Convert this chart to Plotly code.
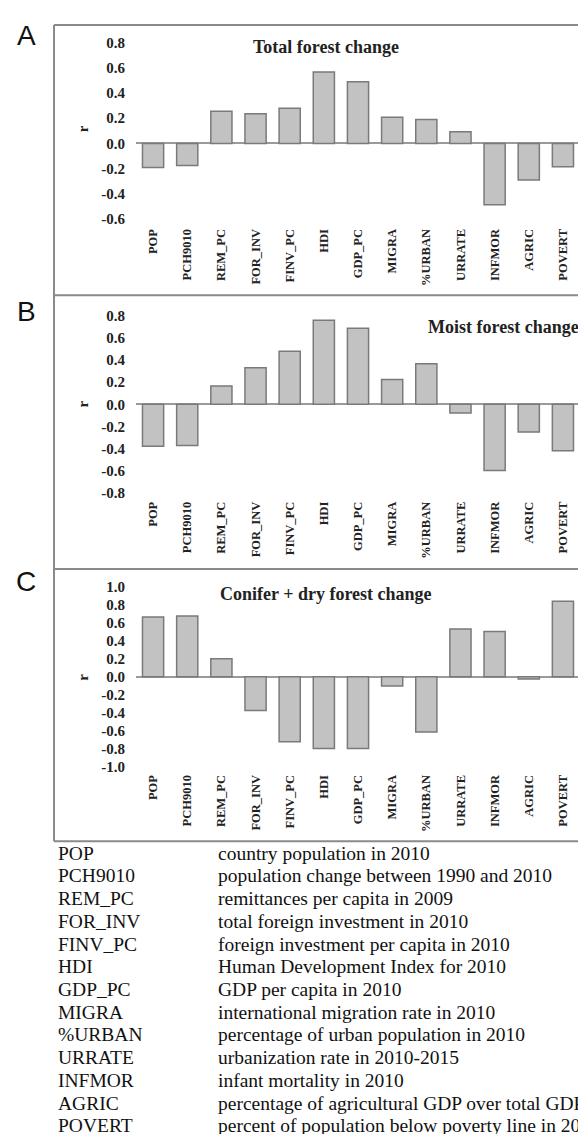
import plotly.graph_objects as go

categories = ["POP", "PCH9010", "REM_PC", "FOR_INV", "FINV_PC", "HDI", "GDP_PC",
              "MIGRA", "%URBAN", "URRATE", "INFMOR", "AGRIC", "POVERT"]
total_r = [-0.19, -0.175, 0.255, 0.236, 0.28, 0.567, 0.49, 0.207, 0.189, 0.092, -0.486, -0.289, -0.184]
moist_r = [-0.38, -0.373, 0.166, 0.33, 0.48, 0.76, 0.687, 0.225, 0.367, -0.08, -0.60, -0.25, -0.42]
conifer_r = [0.663, 0.674, 0.20, -0.372, -0.72, -0.794, -0.794, -0.10, -0.612, 0.532, 0.503, -0.025, 0.838]

panel_titles = ["Total forest change", "Moist forest change", "Conifer + dry forest change"]
panel_letters = ["A", "B", "C"]
ticks_A = [-0.6, -0.4, -0.2, 0.0, 0.2, 0.4, 0.6, 0.8]
ticks_B = [-0.8, -0.6, -0.4, -0.2, 0.0, 0.2, 0.4, 0.6, 0.8]
ticks_C = [-1.0, -0.8, -0.6, -0.4, -0.2, 0.0, 0.2, 0.4, 0.6, 0.8, 1.0]

descriptions = [
    "country population in 2010",
    "population change between 1990 and 2010",
    "remittances per capita in 2009",
    "total foreign investment in 2010",
    "foreign investment per capita in 2010",
    "Human Development Index for 2010",
    "GDP per capita in 2010",
    "international migration rate in 2010",
    "percentage of urban population in 2010",
    "urbanization rate in 2010-2015",
    "infant mortality in 2010",
    "percentage of agricultural GDP over total GDP",
    "percent of population below poverty line in 2010",
]

W, H = 586, 1134
SERIF = "Liberation Serif, Times New Roman, serif"
SANS = "Liberation Sans, Arial, sans-serif"

def px(x):
    return x / W

def py(y):
    return 1 - y / H

# panel geometry (pixels)
panels = [
    dict(vals=total_r, ticks=ticks_A, rng=[-0.65, 0.85], zero=133.3, unit=127.0),
    dict(vals=moist_r, ticks=ticks_B, rng=[-0.85, 0.85], zero=395.7, unit=111.25),
    dict(vals=conifer_r, ticks=ticks_C, rng=[-1.05, 1.05], zero=670.0, unit=90.7),
]

fig = go.Figure()
layout = dict(
    width=W, height=H, autosize=False,
    margin=dict(l=0, r=0, t=0, b=0),
    paper_bgcolor="white", plot_bgcolor="white",
    showlegend=False, bargap=0.4,
)

x_left, x_right = 128, 572
annotations = []
shapes = []

for i, p in enumerate(panels):
    n = "" if i == 0 else str(i + 1)
    top_px = p["zero"] - p["rng"][1] * p["unit"]
    bot_px = p["zero"] - p["rng"][0] * p["unit"]
    fig.add_trace(go.Bar(
        x=categories, y=p["vals"],
        xaxis="x" + n, yaxis="y" + n,
        marker=dict(color="#c2c2c2", line=dict(color="#7a7a7a", width=1.5)),
        width=0.62,
    ))
    layout["xaxis" + n] = dict(
        domain=[px(x_left), px(x_right)], anchor="y" + n,
        range=[-0.5, 12.5], showgrid=False, showline=False, ticks="",
        tickangle=-90,
        tickfont=dict(family=SERIF, size=12.5, color="#222", weight="bold"),
    )
    layout["yaxis" + n] = dict(
        domain=[py(bot_px), py(top_px)], anchor="x" + n,
        range=p["rng"], showgrid=False, showline=False, ticks="",
        tickvals=p["ticks"], ticktext=["%.1f" % t for t in p["ticks"]],
        ticklabelstandoff=10,
        zeroline=True, zerolinecolor="#9a9a9a", zerolinewidth=2,
        tickfont=dict(family=SERIF, size=15, color="#222", weight="bold"),
    )

# titles
annotations.append(dict(text=panel_titles[0], x=px(318), y=py(36), xref="paper", yref="paper",
                        showarrow=False, xanchor="center", yanchor="middle",
                        font=dict(family=SERIF, size=18, color="#222", weight="bold")))
annotations.append(dict(text=panel_titles[1], x=px(573), y=py(318), xref="paper", yref="paper",
                        showarrow=False, xanchor="right", yanchor="middle",
                        font=dict(family=SERIF, size=18, color="#222", weight="bold")))
annotations.append(dict(text=panel_titles[2], x=px(318), y=py(587), xref="paper", yref="paper",
                        showarrow=False, xanchor="center", yanchor="middle",
                        font=dict(family=SERIF, size=18, color="#222", weight="bold")))

# r labels
for ry in [119, 396, 671]:
    annotations.append(dict(text="r", x=px(75), y=py(ry), xref="paper", yref="paper",
                            showarrow=False, textangle=-90, xanchor="center", yanchor="middle",
                            font=dict(family=SERIF, size=15, color="#222", weight="bold")))

# panel letters
for letter, ly in zip(panel_letters, [25, 302, 574]):
    annotations.append(dict(text=letter, x=px(18), y=py(ly), xref="paper", yref="paper",
                            showarrow=False, xanchor="center", yanchor="middle",
                            font=dict(family=SANS, size=28, color="#111")))

# frame lines
frame_col = "#8a8a8a"
shapes.append(dict(type="line", xref="paper", yref="paper", x0=px(46), x1=px(46),
                   y0=py(14), y1=py(835.5), line=dict(color=frame_col, width=2)))
for fy in [14, 286, 561.5, 835.5]:
    shapes.append(dict(type="line", xref="paper", yref="paper", x0=px(46), x1=1.0,
                       y0=py(fy), y1=py(fy), line=dict(color=frame_col, width=2)))

# legend table
row0, dy = 847.5, 22.85
for k, (c, d) in enumerate(zip(categories, descriptions)):
    yy = row0 + k * dy
    annotations.append(dict(text=c, x=px(47.5), y=py(yy), xref="paper", yref="paper",
                            showarrow=False, xanchor="left", yanchor="middle",
                            font=dict(family=SERIF, size=19.5, color="#111")))
    annotations.append(dict(text=d, x=px(207.5), y=py(yy), xref="paper", yref="paper",
                            showarrow=False, xanchor="left", yanchor="middle",
                            font=dict(family=SERIF, size=19.5, color="#111")))

layout["annotations"] = annotations
layout["shapes"] = shapes
fig.update_layout(**layout)
fig.write_html("out.html")
